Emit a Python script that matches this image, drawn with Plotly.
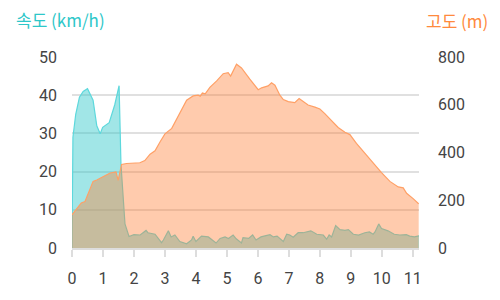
import plotly.graph_objects as go

# distance (km)
speed_x = [0, 0.03, 0.12, 0.24, 0.36, 0.50, 0.68, 0.80, 0.91, 0.99, 1.20, 1.38, 1.52, 1.58, 1.71, 1.84,
           2.0, 2.09, 2.2, 2.39, 2.45, 2.68, 2.89, 2.95, 3.11, 3.2, 3.32, 3.48, 3.7, 3.86, 3.91, 4.0,
           4.18, 4.4, 4.65, 4.78, 4.94, 5.05, 5.2, 5.3, 5.47, 5.52, 5.7, 5.83, 5.94, 6.1, 6.39, 6.5,
           6.62, 6.82, 6.93, 7.03, 7.14, 7.30, 7.46, 7.71, 7.9, 8.11, 8.22, 8.3, 8.38, 8.51, 8.65,
           8.81, 8.92, 9.08, 9.25, 9.45, 9.6, 9.72, 9.78, 9.9, 9.99, 10.2, 10.4, 10.58, 10.79, 10.9,
           11.05, 11.2]
speed = [0, 29, 35, 39.5, 41, 41.7, 38.7, 32, 29.9, 31.6, 32.8, 37.5, 42.5, 22, 6.3, 3,
         3.5, 3.5, 3.4, 4.6, 4.0, 3.6, 1.4, 2.1, 4.5, 2.9, 3.4, 1.7, 1.1, 2.1, 3.1, 1.7,
         3.1, 2.9, 1.3, 2.5, 2.9, 2.5, 3.4, 2.4, 1.3, 2.7, 2.5, 3.4, 2.1, 2.9, 3.5, 2.9,
         3.1, 1.7, 3.6, 3.4, 2.8, 4.0, 4.0, 4.5, 3.6, 3.4, 2.3, 3.4, 2.9, 5.9, 4.8,
         4.6, 4.8, 3.6, 3.4, 4.0, 4.2, 3.6, 4.2, 6.3, 5.1, 4.5, 3.6, 3.4, 3.5, 3.1,
         2.9, 3.2]

alt_x = [0, 0.3, 0.42, 0.68, 0.8, 1.01, 1.23, 1.42, 1.49, 1.6, 1.76, 2.19, 2.35, 2.52, 2.68, 2.84,
         3.0, 3.22, 3.38, 3.54, 3.7, 3.91, 4.07, 4.14, 4.21, 4.3, 4.45, 4.67, 4.88, 5.04, 5.12,
         5.31, 5.47, 5.74, 6.01, 6.12, 6.33, 6.44, 6.55, 6.71, 6.82, 6.98, 7.1, 7.19, 7.33, 7.46,
         7.62, 7.84, 8.0, 8.16, 8.38, 8.59, 8.81, 8.97, 9.18, 9.45, 9.72, 9.99, 10.26, 10.53,
         10.69, 10.8, 11.01, 11.19]
altitude = [139, 189, 195, 279, 285, 299, 314, 319, 283, 350, 354, 357, 366, 393, 407, 444,
            478, 501, 539, 579, 619, 637, 640, 636, 649, 646, 673, 700, 730, 734, 720,
            770, 754, 707, 663, 671, 679, 692, 682, 640, 622, 613, 612, 609, 626, 615,
            599, 590, 582, 563, 532, 505, 485, 475, 438, 397, 360, 316, 279, 256,
            252, 229, 207, 185]

x_ticks = list(range(0, 12))
speed_ticks = [0, 10, 20, 30, 40, 50]
alt_ticks = [0, 200, 400, 600, 800]

fig = go.Figure()
fig.add_trace(go.Scatter(
    x=speed_x, y=speed, mode="lines", fill="tozeroy",
    line=dict(color="#5dd8dc", width=1.2),
    fillcolor="rgba(46,199,201,0.45)", yaxis="y", hoverinfo="skip"))
fig.add_trace(go.Scatter(
    x=alt_x, y=altitude, mode="lines", fill="tozeroy",
    line=dict(color="#ffa066", width=1.2),
    fillcolor="rgba(255,125,50,0.4)", yaxis="y2", hoverinfo="skip"))

tickfont = dict(family="Roboto, sans-serif", size=16, color="#444444")
fig.update_layout(
    width=500, height=300,
    margin=dict(l=72, r=81, t=57, b=45),
    paper_bgcolor="white", plot_bgcolor="white",
    showlegend=False,
    xaxis=dict(range=[0, 11.2], tickvals=x_ticks, ticks="outside", ticklen=7,
               tickcolor="#dddddd", tickwidth=2, showgrid=False, zeroline=False,
               showline=True, linecolor="#dddddd", linewidth=2,
               tickfont=tickfont, ticklabelstandoff=8),
    yaxis=dict(range=[0, 50], tickvals=speed_ticks, showgrid=True, gridcolor="#e0e0e0",
               gridwidth=1.5, zeroline=False, showline=False, ticks="",
               tickfont=tickfont, ticklabelstandoff=14),
    yaxis2=dict(range=[0, 800], tickvals=alt_ticks, overlaying="y", side="right",
                showgrid=False, zeroline=False, showline=False, ticks="",
                tickfont=tickfont, ticklabelstandoff=18),
)
# place titles in pixel coordinates converted to paper coordinates
pw, ph = 500 - 72 - 81, 300 - 57 - 45
fig.add_annotation(text="속도 (km/h)", x=(14 - 72) / pw, y=(300 - 45 - 18) / ph,
                   xref="paper", yref="paper", xanchor="left", yanchor="middle",
                   showarrow=False,
                   font=dict(family="Noto Sans CJK KR", size=17, color="#2ec7c9"))
fig.add_annotation(text="고도 (m)", x=(490 - 72) / pw, y=(300 - 45 - 19) / ph,
                   xref="paper", yref="paper", xanchor="right", yanchor="middle",
                   showarrow=False,
                   font=dict(family="Noto Sans CJK KR", size=17, color="#ff8a3d"))

fig.write_html("out.html")
